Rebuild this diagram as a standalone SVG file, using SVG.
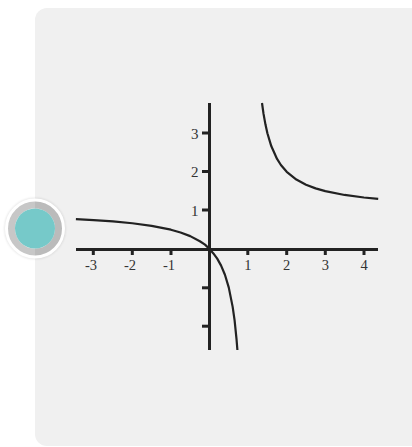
<svg xmlns="http://www.w3.org/2000/svg" width="412" height="447" viewBox="0 0 412 447">
<style>
.axis{stroke:#222;stroke-width:3;fill:none}
.tick{stroke:#222;stroke-width:3;fill:none}
.curve{stroke:#222;stroke-width:2.2;fill:none;stroke-linejoin:round;stroke-linecap:butt}
.xl{font-family:"Liberation Serif",serif;font-size:14.5px;fill:#333;text-anchor:middle}
.yl{font-family:"Liberation Serif",serif;font-size:15px;fill:#333;text-anchor:end}
</style>
<defs>
<filter id="sh" x="-30%" y="-30%" width="160%" height="160%">
<feGaussianBlur stdDeviation="1.2"/>
</filter>
</defs>
<rect width="412" height="447" fill="#ffffff"/>
<rect id="panel" x="35" y="8" width="400" height="438" rx="12" ry="12" fill="#f0f0f0"/>
<g id="badge">
<circle cx="35" cy="228.5" r="29.5" fill="none" stroke="#000" stroke-opacity="0.12" stroke-width="2" filter="url(#sh)"/>
<circle cx="35" cy="228.5" r="28.5" fill="none" stroke="#ffffff" stroke-width="3"/>
<circle cx="35" cy="228.5" r="23.5" fill="none" stroke="#000" stroke-opacity="0.22" stroke-width="7"/>
<circle cx="35" cy="228.5" r="20" fill="#76c9c9"/>
</g>
<g id="axes">
<line class="axis" x1="76" y1="249.5" x2="378" y2="249.5"/>
<line class="axis" x1="209.5" y1="103" x2="209.5" y2="350"/>
<g id="xticks">
<line class="tick" x1="93.3" y1="249.5" x2="93.3" y2="255"/>
<line class="tick" x1="132.3" y1="249.5" x2="132.3" y2="255"/>
<line class="tick" x1="171" y1="249.5" x2="171" y2="255"/>
<line class="tick" x1="247.8" y1="249.5" x2="247.8" y2="255"/>
<line class="tick" x1="286.7" y1="249.5" x2="286.7" y2="255"/>
<line class="tick" x1="325.3" y1="249.5" x2="325.3" y2="255"/>
<line class="tick" x1="364" y1="249.5" x2="364" y2="255"/>
</g>
<g id="yticks">
<line class="tick" x1="202" y1="133" x2="209.5" y2="133"/>
<line class="tick" x1="202" y1="171.5" x2="209.5" y2="171.5"/>
<line class="tick" x1="202" y1="210" x2="209.5" y2="210"/>
<line class="tick" x1="202" y1="287.8" x2="209.5" y2="287.8"/>
<line class="tick" x1="202" y1="326.2" x2="209.5" y2="326.2"/>
</g>
<g id="xlabels">
<text class="xl" x="91" y="269.5">-3</text>
<text class="xl" x="130" y="269.5">-2</text>
<text class="xl" x="169" y="269.5">-1</text>
<text class="xl" x="247.8" y="269.5">1</text>
<text class="xl" x="286.7" y="269.5">2</text>
<text class="xl" x="325.3" y="269.5">3</text>
<text class="xl" x="364" y="269.5">4</text>
</g>
<g id="ylabels">
<text class="yl" x="198.5" y="138.5">3</text>
<text class="yl" x="198.5" y="177">2</text>
<text class="yl" x="198.5" y="215.5">1</text>
</g>
</g>
<g id="connectors">
<polyline class="curve" points="75.9,219.05 93.7,220.05 113.0,221.43 132.3,223.27 151.6,225.84 170.9,229.7 180.55,232.46 190.2,236.13 199.85,241.28 205,244.6 209.5,249 213.4,253.4 217.22,258.65 221.1,265.6 224.94,274.73 228.8,287.6 232.66,306.9 234.6,320.3 236.52,339.07 237.4,350"/>
<polyline class="curve" points="262.0,103 263.54,113.9 265.47,124.6 267.4,133.2 271.26,146.07 277.05,158.93 280.9,165.0 286.7,171.8 296.35,179.52 306.0,184.67 315.6,188.4 325.3,191.1 344.6,194.96 363.9,197.53 378.2,198.95"/>
</g>
</svg>
